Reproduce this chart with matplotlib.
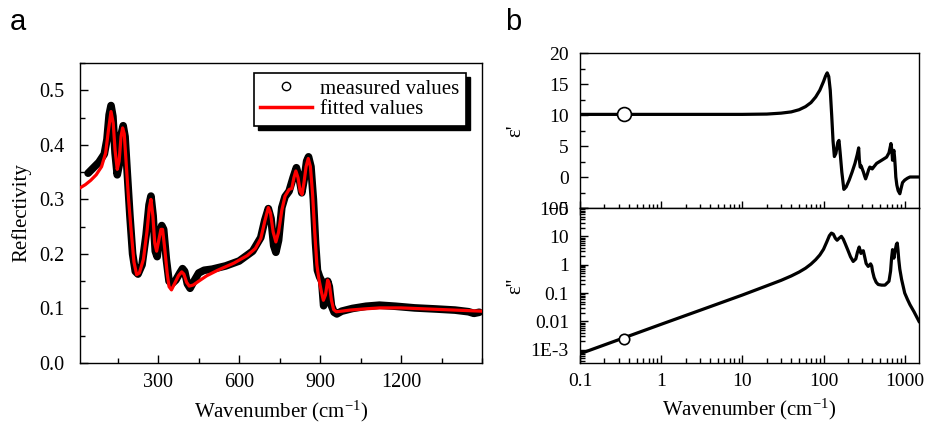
import numpy as np
import matplotlib
matplotlib.use("Agg")
import matplotlib.pyplot as plt
from matplotlib.lines import Line2D
from matplotlib.patches import Rectangle
from matplotlib.ticker import MultipleLocator, LogLocator, NullFormatter

plt.rcParams['font.family'] = ['Liberation Serif', 'DejaVu Serif']
plt.rcParams['mathtext.fontset'] = 'custom'
plt.rcParams['mathtext.rm'] = 'Liberation Serif'
plt.rcParams['mathtext.it'] = 'Liberation Serif:italic'

#### panel a: reflectivity

meas_x = [40, 60, 80, 100, 110, 118, 125, 132, 140, 148, 156, 163, 170, 177, 185, 195, 205, 215, 225, 240,
          255, 266, 273, 281, 289, 296, 305, 313, 320, 330, 340, 350, 365, 380, 390, 398, 408, 418, 430, 450,
          470, 500, 550, 600, 650, 680, 695, 708, 718, 728, 736, 746, 758, 770, 785, 800, 812, 822, 832, 842,
          850, 857, 866, 875, 883, 890, 898, 906, 913, 920, 928, 934, 942, 952, 962, 980, 1020, 1070, 1120, 1180,
          1250, 1330, 1400, 1450, 1470, 1490]
meas_y = [0.348, 0.358, 0.368, 0.383, 0.410, 0.455, 0.472, 0.452, 0.385, 0.345, 0.365, 0.420, 0.435, 0.415, 0.350, 0.270, 0.200, 0.168, 0.163, 0.180,
          0.235, 0.290, 0.306, 0.270, 0.205, 0.195, 0.235, 0.252, 0.245, 0.190, 0.150, 0.145, 0.152, 0.165, 0.173, 0.168, 0.145, 0.137, 0.148, 0.165,
          0.170, 0.172, 0.178, 0.187, 0.205, 0.230, 0.262, 0.283, 0.265, 0.215, 0.203, 0.225, 0.285, 0.305, 0.315, 0.340, 0.358, 0.340, 0.312, 0.340,
          0.370, 0.378, 0.360, 0.300, 0.220, 0.170, 0.158, 0.150, 0.105, 0.115, 0.150, 0.140, 0.105, 0.093, 0.090, 0.095, 0.100, 0.104, 0.106, 0.104,
          0.101, 0.099, 0.097, 0.094, 0.091, 0.093]

fit_x = [10, 30, 50, 70, 90, 105, 115, 125, 133, 140, 148, 155, 162, 168, 174, 182, 190, 200, 210, 220,
         230, 245, 258, 267, 273, 280, 287, 294, 302, 310, 316, 324, 333, 340, 349, 360, 375, 387, 395, 405,
         415, 430, 450, 480, 520, 580, 630, 660, 680, 695, 708, 716, 726, 736, 746, 758, 770, 785, 795, 803,
         810, 818, 826, 833, 840, 848, 856, 864, 872, 880, 888, 895, 905, 912, 920, 928, 934, 942, 950, 960,
         980, 1010, 1060, 1120, 1200, 1300, 1400, 1500]
fit_y = [0.321, 0.327, 0.335, 0.345, 0.360, 0.385, 0.425, 0.461, 0.440, 0.390, 0.355, 0.370, 0.415, 0.431, 0.420, 0.360, 0.300, 0.240, 0.185, 0.162,
         0.165, 0.190, 0.240, 0.285, 0.300, 0.270, 0.220, 0.205, 0.225, 0.245, 0.245, 0.210, 0.165, 0.140, 0.134, 0.145, 0.160, 0.167, 0.163, 0.148,
         0.141, 0.143, 0.150, 0.160, 0.170, 0.183, 0.197, 0.210, 0.228, 0.260, 0.285, 0.275, 0.240, 0.222, 0.240, 0.280, 0.306, 0.318, 0.320, 0.340,
         0.352, 0.340, 0.315, 0.309, 0.330, 0.360, 0.375, 0.360, 0.310, 0.240, 0.180, 0.155, 0.130, 0.115, 0.125, 0.152, 0.145, 0.115, 0.098, 0.094,
         0.095, 0.097, 0.099, 0.101, 0.101, 0.099, 0.097, 0.095]

#### panel b: dielectric function

eps1_x = [0.1, 1, 10, 20, 30, 40, 50, 60, 70, 80, 90, 100, 106, 111, 116, 121, 126, 131, 136, 142,
          150, 155, 160, 168, 178, 190, 207, 225, 244, 260, 271, 276, 283, 291, 300, 310, 320, 330, 345, 360,
          372, 385, 398, 420, 451, 520, 598, 640, 677, 695, 708, 720, 736, 750, 765, 777, 800, 830, 871, 900,
          940, 1000, 1080, 1160, 1300, 1500]
eps1_y = [10.1, 10.1, 10.1, 10.15, 10.3, 10.5, 10.85, 11.35, 12.0, 12.9, 14.0, 15.4, 16.3, 16.8, 16.2, 14.0, 10.0, 5.8, 3.3, 3.8,
          5.6, 5.9, 4.0, 0.8, -2.0, -1.6, -0.5, 0.8, 2.2, 3.6, 4.7, 2.8, 1.6, 1.8, 1.3, 0.8, 0.2, -0.3, 0.4, 1.2,
          1.6, 1.5, 1.3, 1.7, 2.2, 2.7, 3.2, 3.9, 5.4, 4.3, 2.7, 3.8, 4.3, 3.2, 1.6, 0.0, -1.3, -2.2, -2.7, -1.9,
          -0.9, -0.5, -0.2, 0.0, 0.0, 0.0]

eps2_x = [0.1, 1, 3, 10, 20, 30, 40, 50, 60, 70, 80, 90, 100, 110, 118, 125, 132, 140, 147, 155,
          166, 175, 185, 200, 215, 232, 250, 262, 275, 289, 300, 309, 320, 335, 355, 368, 380, 392, 402, 420,
          445, 472, 520, 571, 640, 670, 690, 708, 722, 736, 760, 790, 809, 825, 845, 870, 916, 1000, 1080, 1160,
          1300, 1500]
eps2_y = [7.2e-4, 7.9e-3, 0.0245, 0.085, 0.18, 0.28, 0.40, 0.55, 0.75, 1.05, 1.5, 2.2, 3.5, 6.5, 10.5, 13.0, 12.0, 8.5, 7.3, 8.5,
          10.0, 8.0, 5.5, 3.2, 1.9, 1.3, 1.6, 2.8, 4.2, 2.5, 3.0, 3.1, 2.0, 1.1, 0.87, 0.95, 1.07, 0.9, 0.58, 0.35,
          0.24, 0.2, 0.19, 0.19, 0.26, 0.6, 1.8, 3.4, 2.2, 1.7, 3.0, 5.2, 5.8, 3.5, 1.5, 0.7, 0.3, 0.1, 0.06, 0.039,
          0.022, 0.01]

mark_x = [0.35]
mark_eps1 = [10.1]
mark_eps2 = [2.4e-3]

fig = plt.figure(figsize=(9.27, 4.23), dpi=100)

axa = fig.add_axes([80/927, 60/423, 402/927, 300/423])
axa.plot(meas_x, meas_y, color='k', lw=5.5, solid_capstyle='round', solid_joinstyle='round', zorder=2)
axa.plot(fit_x, fit_y, color='#ff0000', lw=2.3, zorder=3)
axa.set_xlim(10, 1500)
axa.set_ylim(0, 0.55)
axa.set_xticks([300, 600, 900, 1200])
axa.xaxis.set_minor_locator(MultipleLocator(150))
axa.set_yticks([0.0, 0.1, 0.2, 0.3, 0.4, 0.5])
axa.set_yticklabels(['0.0', '0.1', '0.2', '0.3', '0.4', '0.5'])
axa.yaxis.set_minor_locator(MultipleLocator(0.05))
axa.tick_params(which='both', direction='in', labelsize=14.5, top=False, right=False)
axa.tick_params(axis='y', which='both', pad=11)
axa.tick_params(axis='x', which='both', pad=7)
axa.tick_params(which='major', length=6, width=1)
axa.tick_params(which='minor', length=3.5, width=1)
axa.set_xlabel('Wavenumber (cm$^{-1}$)', fontsize=15, labelpad=5)
axa.set_ylabel('Reflectivity', fontsize=15, labelpad=6)
for s in axa.spines.values():
    s.set_linewidth(1.0)

handles = [Line2D([], [], ls='none', marker='o', ms=6, mfc='white', mec='k', mew=1),
           Line2D([], [], color='#ff0000', lw=2.5)]
leg = axa.legend(handles, ['measured values', 'fitted values'], loc='upper right',
                 bbox_to_anchor=(0.96, 0.967), borderaxespad=0, fontsize=15, frameon=True,
                 fancybox=False, framealpha=1, edgecolor='k', labelspacing=0.05,
                 borderpad=0.3, handlelength=2.5, handletextpad=0.4)
leg.get_frame().set_linewidth(1.2)
leg.set_zorder(5)

axb1 = fig.add_axes([580/927, 215/423, 339/927, 155/423])
axb2 = fig.add_axes([580/927, 60/423, 339/927, 155/423], sharex=axb1)

axb1.plot(eps1_x, eps1_y, color='k', lw=2.3)
axb1.plot(mark_x, mark_eps1, ls='none', marker='o', ms=10, mfc='white', mec='k', mew=1.2)
axb1.set_xscale('log')
axb1.set_xlim(0.1, 1500)
axb1.set_ylim(-5, 20)
axb1.set_yticks([-5, 0, 5, 10, 15, 20])
axb1.yaxis.set_minor_locator(MultipleLocator(2.5))
axb1.tick_params(axis='x', which='both', labelbottom=False)
axb1.set_ylabel("ε'", fontsize=15)

axb2.plot(eps2_x, eps2_y, color='k', lw=2.3)
axb2.plot(mark_x, mark_eps2, ls='none', marker='o', ms=7.5, mfc='white', mec='k', mew=1.2)
axb2.set_yscale('log')
axb2.set_ylim(3.4e-4, 100)
axb2.set_yticks([1e-3, 1e-2, 1e-1, 1, 10, 100])
axb2.set_yticklabels(['1E-3', '0.01', '0.1', '1', '10', '100'])
axb2.yaxis.set_minor_locator(LogLocator(base=10, subs=np.arange(2, 10), numticks=20))
axb2.yaxis.set_minor_formatter(NullFormatter())
axb2.set_xticks([0.1, 1, 10, 100, 1000])
axb2.set_xticklabels(['0.1', '1', '10', '100', '1000'])
axb2.xaxis.set_minor_locator(LogLocator(base=10, subs=np.arange(2, 10), numticks=20))
axb2.xaxis.set_minor_formatter(NullFormatter())
axb2.set_xlabel('Wavenumber (cm$^{-1}$)', fontsize=15, labelpad=5)
axb2.set_ylabel("ε''", fontsize=15)

for ax in (axb1, axb2):
    ax.tick_params(which='both', direction='in', labelsize=14, top=False, right=False)
    ax.tick_params(axis='y', which='both', pad=8)
    ax.tick_params(axis='x', which='both', pad=7)
    ax.tick_params(which='major', length=6, width=1)
    ax.tick_params(which='minor', length=3.5, width=1)
    for s in ax.spines.values():
        s.set_linewidth(1.0)
axb1.tick_params(axis='x', which='both', direction='inout')
axb1.tick_params(axis='x', which='major', length=10)
axb1.tick_params(axis='x', which='minor', length=6)
axb1.yaxis.set_label_coords(-0.162, 0.5)
axb2.yaxis.set_label_coords(-0.162, 0.5)

fig.text(10/927, 1 - 22/423, 'a', fontsize=21, family=['Liberation Sans', 'DejaVu Sans'], va='center')
fig.text(505/927, 1 - 22/423, 'b', fontsize=21, family=['Liberation Sans', 'DejaVu Sans'], va='center')

# black shadow behind the legend box
fig.canvas.draw()
bb = leg.get_window_extent().transformed(fig.transFigure.inverted())
sh = Rectangle((bb.x0 + 4.5/927, bb.y0 - 4.5/423), bb.width, bb.height, transform=fig.transFigure,
               facecolor='k', edgecolor='k', zorder=4.5, clip_on=False)
axa.add_artist(sh)

fig.savefig('out.png', dpi=100)
